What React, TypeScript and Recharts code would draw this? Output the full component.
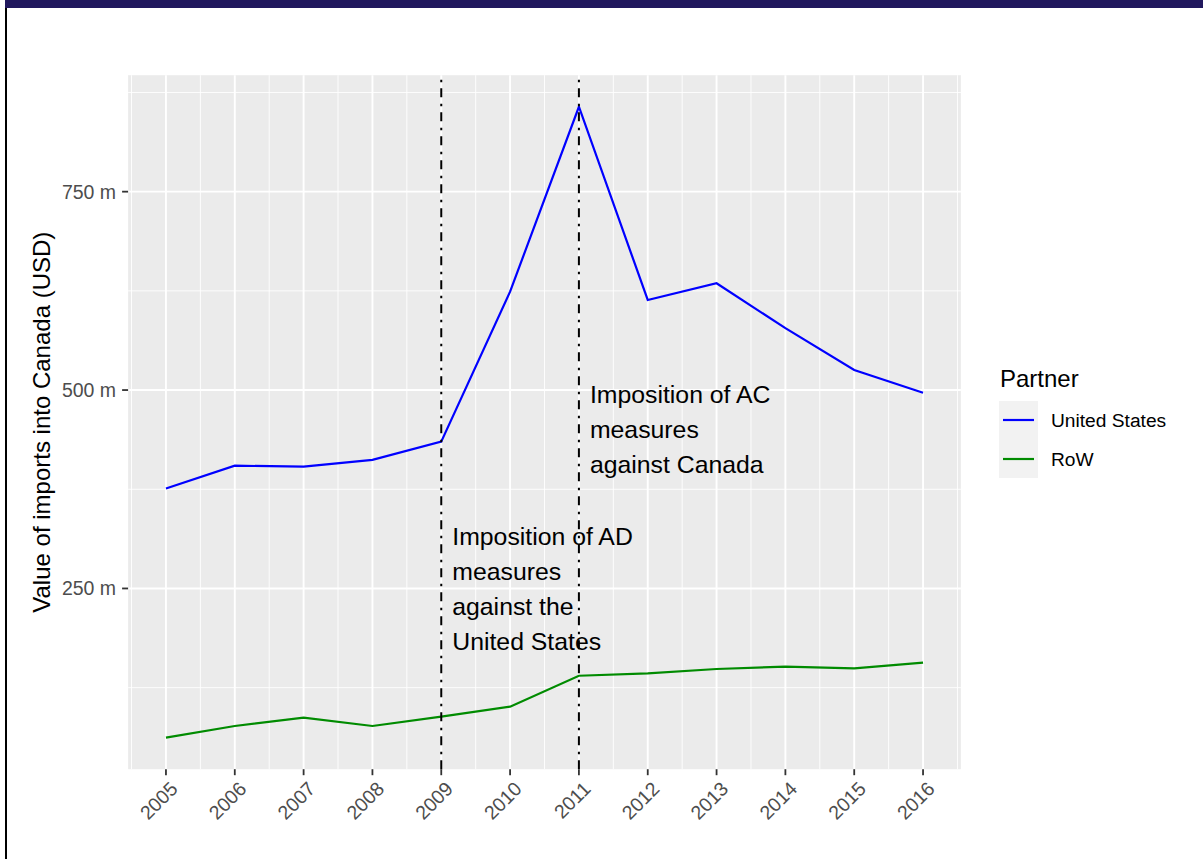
import React from 'react';
import {
  LineChart,
  Line,
  XAxis,
  YAxis,
  CartesianGrid,
  ReferenceLine,
  ReferenceDot,
  Legend,
} from 'recharts';

const years = [2005, 2006, 2007, 2008, 2009, 2010, 2011, 2012, 2013, 2014, 2015, 2016];
const usValues = [376, 404.7, 403.5, 412, 435, 624, 857, 613.5, 634.6, 578, 525.3, 496.7];
const rowValues = [62, 76.7, 87.2, 76.7, 88.5, 101, 140, 143, 148.5, 151.5, 149.4, 156.5];
const seriesKeys = ['us', 'row'];
const seriesNames = ['United States', 'RoW'];
const seriesColors = ['#0000FF', '#008B00'];
const yMajorTicks = [250, 500, 750];
const yMinorTicks = [125, 375, 625, 875];
const xMinorTicks = [2004.5, 2005.5, 2006.5, 2007.5, 2008.5, 2009.5, 2010.5, 2011.5, 2012.5, 2013.5, 2014.5, 2015.5, 2016.5];
const measureYears = [2009, 2011];
const annotationY = [250, 450];
const annotationLines = [
  ['Imposition of AD', 'measures', 'against the', 'United States'],
  ['Imposition of AC', 'measures', 'against Canada'],
];
const yTitle = 'Value of imports into Canada (USD)';
const legendTitle = 'Partner';

const data = years.map((year, i) => ({ year, us: usValues[i], row: rowValues[i] }));

const allVals = [...usValues, ...rowValues];
const yMin = Math.min(...allVals);
const yMax = Math.max(...allVals);
const yPad = (yMax - yMin) * 0.05;
const yDomain = [yMin - yPad, yMax + yPad];
const xPad = (years[years.length - 1] - years[0]) * 0.05;
const xDomain = [years[0] - xPad, years[years.length - 1] + xPad];

const FONT = "'Liberation Sans', Arial, Helvetica, sans-serif";

const XTick = (props: any) => {
  const { x, y, payload } = props;
  const ax = x + 3;
  const ay = y + 3;
  return (
    <text
      x={ax}
      y={ay}
      transform={`rotate(-45 ${ax} ${ay})`}
      textAnchor="end"
      dy="0.72em"
      fill="#4D4D4D"
      fontSize={19.5}
      fontFamily={FONT}
    >
      {payload.value}
    </text>
  );
};

const YTitle = (props: any) => {
  const vb = props && props.viewBox ? props.viewBox : { y: 75, height: 694 };
  const cy = vb.y + vb.height / 2;
  const cx = 50;
  return (
    <text
      x={cx}
      y={cy}
      transform={`rotate(-90 ${cx} ${cy})`}
      textAnchor="middle"
      fill="#000000"
      fontSize={24}
      fontFamily={FONT}
    >
      {yTitle}
    </text>
  );
};

const makeAnnotation = (lines: string[]) => (p: any) => {
  const { cx, cy } = p;
  const lh = 35;
  const first = cy - ((lines.length - 1) / 2) * lh + 8.6;
  return (
    <text x={cx + 11} y={first} fill="#000000" fontSize={24.8} fontFamily={FONT}>
      {lines.map((l, i) => (
        <tspan key={i} x={cx + 11} y={first + i * lh}>
          {l}
        </tspan>
      ))}
    </text>
  );
};

const LegendContent = () => (
  <svg width={210} height={130} style={{ display: 'block' }}>
    <text x={10} y={32} fontSize={24} fontFamily={FONT} fill="#000000">
      {legendTitle}
    </text>
    <rect x={9} y={46} width={39} height={77} fill="#F2F2F2" />
    {seriesNames.map((name, i) => (
      <g key={name}>
        <line x1={13} x2={44} y1={65 + i * 39} y2={65 + i * 39} stroke={seriesColors[i]} strokeWidth={2.2} />
        <text x={61} y={72 + i * 39} fontSize={19.2} fontFamily={FONT} fill="#000000">
          {name}
        </text>
      </g>
    ))}
  </svg>
);

export default function App() {
  return (
    <div
      style={{
        position: 'absolute',
        left: 0,
        top: 0,
        width: 1203,
        height: 859,
        background: '#FFFFFF',
        overflow: 'hidden',
      }}
    >
      <div style={{ position: 'absolute', left: 5, top: 0, width: 1198, height: 8, background: '#21185E' }} />
      <div style={{ position: 'absolute', left: 5, top: 8, width: 2, height: 851, background: '#000000' }} />
      <div style={{ position: 'absolute', left: 0, top: 0 }}>
        <LineChart
          width={1203}
          height={859}
          data={data}
          margin={{ top: 75.2, right: 242.1, bottom: 0, left: 0 }}
        >
          <CartesianGrid
            fill="#EBEBEB"
            stroke="#FFFFFF"
            strokeWidth={0.9}
            horizontalValues={yMinorTicks}
            verticalValues={xMinorTicks}
          />
          <CartesianGrid
            stroke="#FFFFFF"
            strokeWidth={1.9}
            horizontalValues={yMajorTicks}
            verticalValues={years}
          />
          <XAxis
            dataKey="year"
            type="number"
            domain={xDomain}
            ticks={years}
            interval={0}
            allowDataOverflow
            height={89.8}
            tickSize={6}
            tickMargin={2}
            axisLine={false}
            tickLine={{ stroke: '#333333', strokeWidth: 1.8 }}
            tick={<XTick />}
          />
          <YAxis
            type="number"
            domain={yDomain}
            ticks={yMajorTicks}
            allowDataOverflow
            width={128.1}
            tickSize={6}
            tickMargin={6}
            axisLine={false}
            tickLine={{ stroke: '#333333', strokeWidth: 1.8 }}
            tick={{ fill: '#4D4D4D', fontSize: 19.5, fontFamily: FONT }}
            tickFormatter={(v: number) => `${v} m`}
            label={(props: any) => <YTitle {...props} />}
          />
          {seriesKeys.map((k, i) => (
            <Line
              key={k}
              type="linear"
              dataKey={k}
              name={seriesNames[i]}
              stroke={seriesColors[i]}
              strokeWidth={2.2}
              dot={false}
              activeDot={false}
              isAnimationActive={false}
            />
          ))}
          {measureYears.map((yr) => (
            <ReferenceLine
              key={yr}
              x={yr}
              stroke="#000000"
              strokeWidth={2}
              strokeDasharray="9 6 2.5 6.5"
            />
          ))}
          {measureYears.map((yr, i) => (
            <ReferenceDot
              key={`a${yr}`}
              x={yr}
              y={annotationY[i]}
              r={0}
              shape={makeAnnotation(annotationLines[i])}
            />
          ))}
          <Legend
            layout="horizontal"
            verticalAlign="middle"
            align="center"
            content={() => <LegendContent />}
            wrapperStyle={{ position: 'absolute', left: 990, top: 355, width: 210, height: 130 }}
          />
        </LineChart>
      </div>
    </div>
  );
}
